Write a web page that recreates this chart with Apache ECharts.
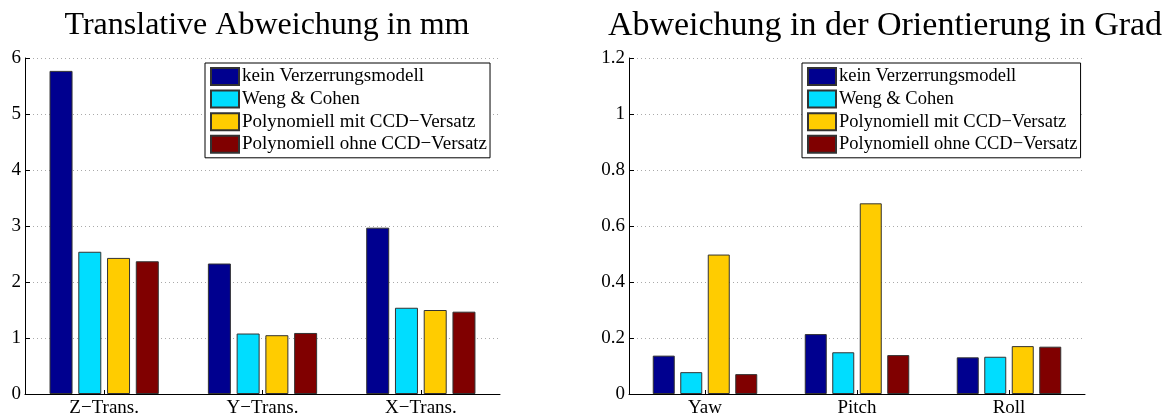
<!DOCTYPE html>
<html>
<head>
<meta charset="utf-8">
<script src="https://cdn.jsdelivr.net/npm/echarts@6/dist/echarts.min.js"></script>
<style>html,body{margin:0;padding:0;background:#fff}#c{width:1163px;height:419px}</style>
</head>
<body>
<div id="c"></div>
<script>
const seriesNames = ['kein Verzerrungsmodell', 'Weng & Cohen', 'Polynomiell mit CCD\u2212Versatz', 'Polynomiell ohne CCD\u2212Versatz'];
const colors = ['#00008F', '#00DDFF', '#FFCC00', '#800000'];
const transCategories = ['Z\u2212Trans.', 'Y\u2212Trans.', 'X\u2212Trans.'];
const orientCategories = ['Yaw', 'Pitch', 'Roll'];
const transKein = [5.77, 2.33, 2.97];
const transWeng = [2.54, 1.08, 1.54];
const transPolyMit = [2.43, 1.05, 1.50];
const transPolyOhne = [2.37, 1.09, 1.47];
const orientKein = [0.137, 0.214, 0.131];
const orientWeng = [0.078, 0.149, 0.133];
const orientPolyMit = [0.498, 0.681, 0.171];
const orientPolyOhne = [0.071, 0.139, 0.169];
const titles = ['Translative Abweichung in mm', 'Abweichung in der Orientierung in Grad'];

const FONT = 'Liberation Serif';
const transData = [transKein, transWeng, transPolyMit, transPolyOhne];
const orientData = [orientKein, orientWeng, orientPolyMit, orientPolyOhne];

function makeSeries(dataSets, idx, bw) {
  return dataSets.map((d, i) => ({
    type: 'bar', name: seriesNames[i], xAxisIndex: idx, yAxisIndex: idx,
    data: d, barWidth: bw, barGap: '25%',
    itemStyle: { color: colors[i], borderColor: '#333', borderWidth: 1 },
    emphasis: { disabled: true }, animation: false
  }));
}
function xAxis(idx, cats) {
  return {
    type: 'category', gridIndex: idx, data: cats,
    axisLine: { lineStyle: { color: '#000', width: 1 } },
    axisTick: { show: true, inside: true, alignWithLabel: true, length: 4, lineStyle: { color: '#000' } },
    axisLabel: { color: '#000', fontFamily: FONT, fontSize: 19, margin: 5 }
  };
}
function yAxis(idx, max, interval) {
  return {
    type: 'value', gridIndex: idx, min: 0, max: max, interval: interval,
    axisLine: { show: true, lineStyle: { color: '#000', width: 1 } },
    axisTick: { show: true, inside: true, length: 5, lineStyle: { color: '#000' } },
    axisLabel: { color: '#000', fontFamily: FONT, fontSize: 19, margin: 4 },
    splitLine: { show: true, lineStyle: { color: '#aaa', type: [1, 3], width: 1 } }
  };
}
function legend(idx, left, top, fs) {
  return {
    orient: 'vertical', left: left, top: top, data: seriesNames,
    itemWidth: 28, itemHeight: 17, itemGap: 3.6,
    padding: [4, 3, 4, 5],
    borderColor: '#000', borderWidth: 1, backgroundColor: '#fff',
    icon: 'rect', selectedMode: false,
    textStyle: { color: '#000', fontFamily: FONT, fontSize: fs, padding: [0, 0, 0, -2] }
  };
}

const chart = echarts.init(document.getElementById('c'), null, { renderer: 'canvas' });
chart.setOption({
  backgroundColor: '#fff',
  animation: false,
  title: [
    { text: titles[0], left: 262, top: 5, textAlign: 'center', textStyle: { fontFamily: FONT, fontSize: 32, fontWeight: 'normal', color: '#000' } },
    { text: titles[1], left: 880, top: 4, textAlign: 'center', textStyle: { fontFamily: FONT, fontSize: 34, fontWeight: 'normal', color: '#000' } }
  ],
  legend: [legend(0, 205, 63, 19), legend(1, 802, 63, 18.5)],
  grid: [
    { left: 25, right: 663, top: 58, bottom: 25, containLabel: false },
    { left: 629, right: 78, top: 58, bottom: 25, containLabel: false }
  ],
  xAxis: [xAxis(0, transCategories), xAxis(1, orientCategories)],
  yAxis: [yAxis(0, 6, 1), yAxis(1, 1.2, 0.2)],
  series: makeSeries(transData, 0, 23).concat(makeSeries(orientData, 1, 22))
});
</script>
</body>
</html>
